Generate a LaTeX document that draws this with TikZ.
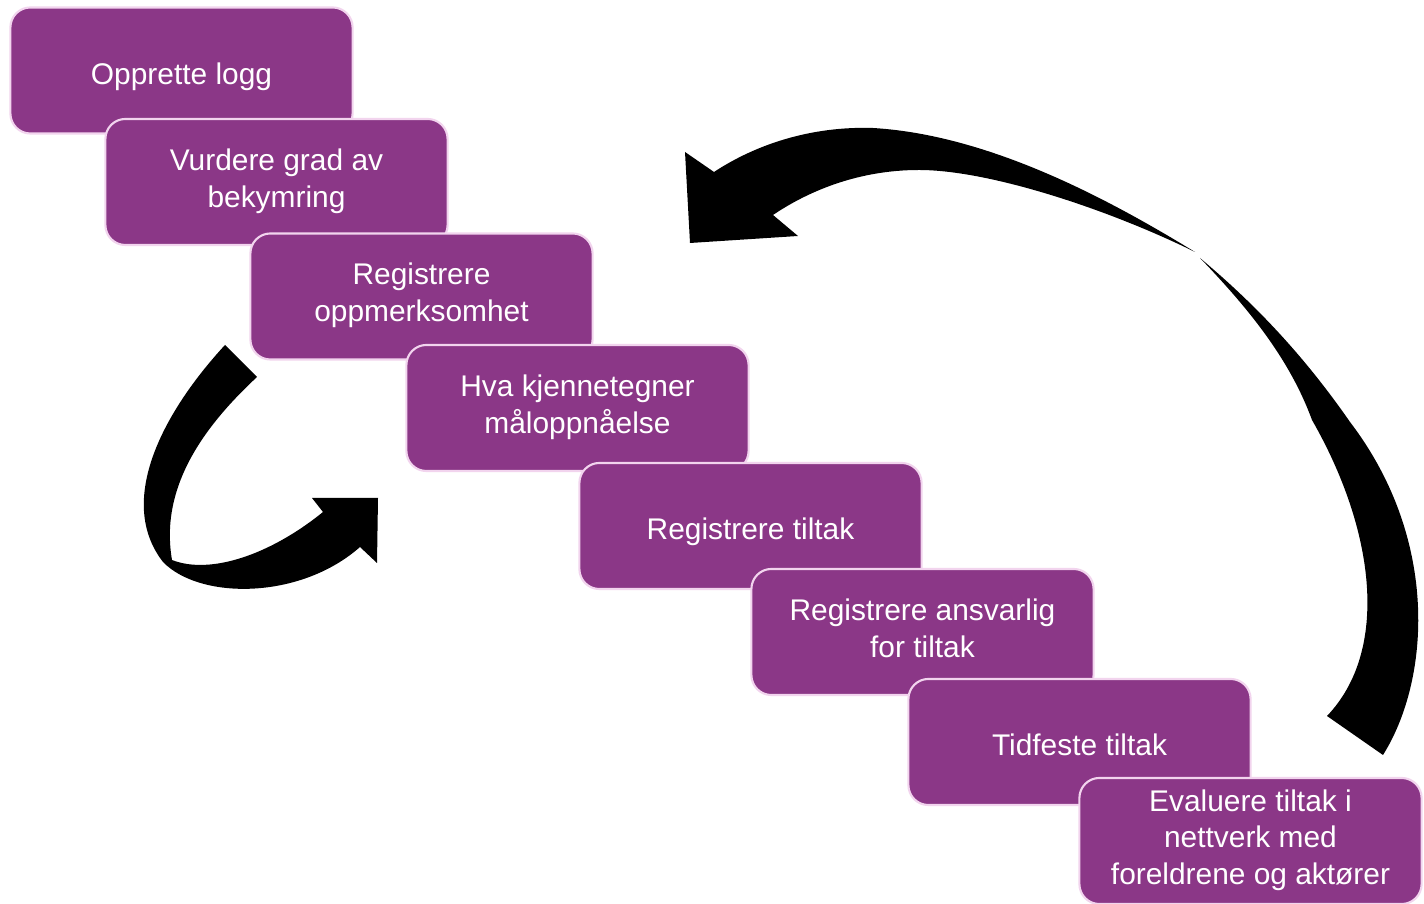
\documentclass[tikz,border=0pt]{standalone}
\usepackage{fontspec}
\setmainfont{Liberation Sans}
\usetikzlibrary{positioning}
\definecolor{lilla}{HTML}{8B3787}
\definecolor{rosa}{HTML}{F2D4EE}
\tikzset{
	trinn/.style = {rectangle, rounded corners=0.2cm, draw=rosa, line width=0.6pt,
		fill=lilla, text=white, align=center, inner sep=2pt,
		minimum width=3.42cm, minimum height=1.26cm,
		font=\fontsize{8.5pt}{10.5pt}\selectfont,
		execute at begin node={\rule{0pt}{10pt}},
		execute at end node={\rule[-2.2pt]{0pt}{2.2pt}}},% trinn i prosessen
	pil/.style = {fill=black}% svart buet pil
}

\begin{document}
\begin{tikzpicture}[x=0.01cm, y=-0.01cm]
	\useasboundingbox (0,0) rectangle (1424,904);
	\fill[white] (0,0) rectangle (1424,904);
	% trinnene, hvert over det forrige
	\node [trinn] (logg) at (181.5,70.5) {Opprette logg};
	\node [trinn] (grad) at (276.5,182) {Vurdere grad av\\bekymring};
	\node [trinn] (oppm) at (421.5,296.5) {Registrere\\oppmerksomhet};
	\node [trinn] (maal) at (577.5,408) {Hva kjennetegner\\måloppnåelse};
	\node [trinn] (tiltak) at (750.5,526) {Registrere tiltak};
	\node [trinn] (ansv) at (922.5,632) {Registrere ansvarlig\\for tiltak};
	\node [trinn] (tid) at (1079.5,742) {Tidfeste tiltak};
	\node [trinn] (eval) at (1250.5,841) {Evaluere tiltak i\\nettverk med\\foreldrene og aktører};
	% liten pil til venstre
	\fill [pil] (225,345) .. controls (165,410) and (115,500) .. (163,562)
		.. controls (200,600) and (300,600) .. (360,547)
		-- (377,563) -- (378,498) -- (312,498) -- (323,512)
		.. controls (270,555) and (210,575) .. (172,560)
		.. controls (160,490) and (200,430) .. (257,377) -- cycle;
	% stor pil til hoyre, nedre del
	\fill [pil] (1327,716) -- (1383,755)
		.. controls (1430,680) and (1440,540) .. (1350,422)
		.. controls (1300,350) and (1250,300) .. (1200,258)
		.. controls (1250,310) and (1290,360) .. (1312,420)
		.. controls (1375,530) and (1390,650) .. (1327,716) -- cycle;
	% stor pil til hoyre, ovre del med spiss
	\fill [pil] (1195,252) .. controls (1110,200) and (990,135) .. (873,128)
		.. controls (810,126) and (755,145) .. (714,172)
		-- (685,152) -- (690,243) -- (798,236) -- (773,215)
		.. controls (810,190) and (860,170) .. (919,170)
		.. controls (990,170) and (1110,210) .. (1195,252) -- cycle;
\end{tikzpicture}
\end{document}
